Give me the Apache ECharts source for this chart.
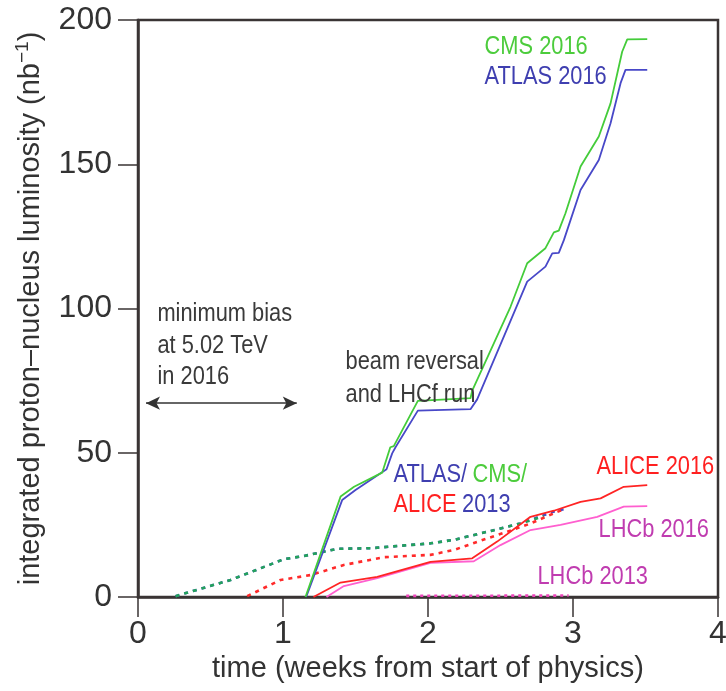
<!DOCTYPE html>
<html><head><meta charset="utf-8">
<script src="https://cdn.jsdelivr.net/npm/echarts@6/dist/echarts.min.js"></script>
<style>html,body{margin:0;padding:0;background:#fff}#c{width:726px;height:691px}</style>
</head><body><div id="c"></div>
<script>
// ---- data (time in weeks, integrated luminosity in nb^-1) ----
const xTickValues = [0, 1, 2, 3, 4];
const yTickValues = [0, 50, 100, 150, 200];

const cms2016 = [[1.155,0],[1.397,34.8],[1.49,38.2],[1.684,43.1],[1.74,51.9],[1.764,52.3],[1.93,68.0],[2.293,68.9],[2.305,71.5],[2.569,100.6],[2.684,115.7],[2.81,120.9],[2.868,126.4],[2.902,127.0],[2.948,133.0],[3.052,149.2],[3.178,159.6],[3.259,171.1],[3.339,189.0],[3.374,193.3],[3.512,193.4]];
const atlas2016 = [[1.16,0],[1.408,33.6],[1.5,37.1],[1.714,44.3],[1.753,49.8],[1.776,51.9],[1.93,64.6],[2.293,65.1],[2.339,68.5],[2.684,109.3],[2.81,114.5],[2.857,119.1],[2.902,119.3],[2.937,123.7],[3.052,141.1],[3.178,151.5],[3.259,164.2],[3.328,178.1],[3.362,182.7],[3.512,182.7]];
const alice2016 = [[1.21,0],[1.397,5.0],[1.65,7.0],[2.017,12.2],[2.305,13.4],[2.477,19.2],[2.707,27.8],[2.868,29.9],[3.052,33.0],[3.19,34.2],[3.35,38.2],[3.512,38.8]];
const lhcb2016 = [[1.30,0],[1.42,3.8],[1.65,6.5],[2.017,11.8],[2.316,12.4],[2.5,18.0],[2.707,23.2],[2.914,25.0],[3.167,27.8],[3.35,31.3],[3.512,31.5]];
const atlas2013 = [[0.259,0.3],[0.638,5.9],[1.006,13.1],[1.143,14.2],[1.374,16.7],[1.603,16.9],[2.017,18.6],[2.178,19.8],[2.408,22.6],[2.638,25.5],[2.868,29.6],[2.96,30.7]];
const cms2013 = [[0.259,0.3],[0.638,5.9],[1.006,13.1],[1.143,14.2],[1.374,16.7],[1.603,16.9],[2.017,18.6],[2.178,19.8],[2.408,22.6],[2.638,25.5],[2.8,28.0]];
const alice2013 = [[0.753,0.3],[0.983,5.9],[1.19,7.6],[1.419,11.1],[1.695,13.8],[2.017,14.6],[2.178,16.3],[2.408,20.3],[2.546,22.6],[2.707,25.5],[2.868,29.0],[2.94,30.5]];
const lhcb2013 = [[1.85,0.4],[2.97,0.5]];
const arrowSpan = [[0.055,67.2],[1.095,67.2]];

// annotations: [text, t, L, color]
const annotations = [
  ['CMS 2016', 2.39, 190.6, '#4ccc3c'],
  ['ATLAS 2016', 2.39, 180.2, '#3f3fb0'],
  ['minimum bias', 0.134, 98.1, '#3a3a3a'],
  ['at 5.02 TeV', 0.134, 87.0, '#3a3a3a'],
  ['in 2016', 0.134, 76.3, '#3a3a3a'],
  ['beam reversal', 1.431, 81.5, '#3a3a3a'],
  ['and LHCf run', 1.431, 70.0, '#3a3a3a'],
  ['ATLAS/', 1.762, 42.3, '#3f3fb0'],
  ['CMS/', 2.307, 42.3, '#4ccc3c'],
  ['ALICE', 1.762, 31.9, '#ff2020'],
  ['2013', 2.235, 31.9, '#3f3fb0'],
  ['ALICE 2016', 3.162, 45.1, '#ff2020'],
  ['LHCb 2016', 3.176, 23.2, '#c03cb0'],
  ['LHCb 2013', 2.755, 6.9, '#c03cb0']
];

const FF = '"Liberation Sans", Arial, sans-serif';
const AX = '#3a3434';

const chart = echarts.init(document.getElementById('c'), null, {renderer: 'canvas'});

function solid(name, data, color, w) {
  return {name, type: 'line', data, symbol: 'none', smooth: false,
    lineStyle: {color, width: w || 1.8}, animation: false, z: 3};
}
function dashed(name, data, color, dash) {
  return {name, type: 'line', data, symbol: 'none',
    lineStyle: {color, width: 2.6, type: dash || [4, 5], cap: 'butt'}, animation: false, z: 2};
}

chart.setOption({
  animation: false,
  grid: {left: 138, right: 8, top: 20, bottom: 94, show: true, borderColor: AX, borderWidth: 2.5,
    backgroundColor: 'transparent', containLabel: false, outerBoundsMode: 'none'},
  xAxis: {
    type: 'value', min: 0, max: 4, interval: 1,
    name: 'time (weeks from start of physics)', nameLocation: 'middle', nameGap: 51,
    nameTextStyle: {fontFamily: FF, fontSize: 29, color: '#333'},
    axisLine: {show: true, lineStyle: {color: AX, width: 2.5}},
    axisTick: {show: true, inside: false, length: 20, lineStyle: {color: AX, width: 1.5}},
    axisLabel: {fontFamily: FF, fontSize: 32, color: '#333', margin: 21,
      formatter: v => xTickValues.includes(v) ? String(v) : ''},
    splitLine: {show: false}
  },
  yAxis: {
    type: 'value', min: 0, max: 200, interval: 50,
    name: 'integrated proton\u2013nucleus luminosity (nb{sup|\u22121})', nameLocation: 'middle', nameGap: 80,
    nameRotate: 90,
    nameTextStyle: {fontFamily: FF, fontSize: 29, color: '#333', lineHeight: 34,
      rich: {sup: {fontFamily: FF, fontSize: 19, color: '#333', verticalAlign: 'top', lineHeight: 34}}},
    axisLine: {show: true, lineStyle: {color: AX, width: 2.5}},
    axisTick: {show: true, inside: false, length: 20, lineStyle: {color: AX, width: 1.5}},
    axisLabel: {fontFamily: FF, fontSize: 32, color: '#333', margin: 26,
      formatter: v => yTickValues.includes(v) ? String(v) : ''},
    splitLine: {show: false}
  },
  series: [
    dashed('LHCb 2013', lhcb2013, '#ee44bb', [3, 4]),
    dashed('ATLAS 2013', atlas2013, '#4a4ac8'),
    dashed('CMS 2013', cms2013, '#22a35a'),
    dashed('ALICE 2013', alice2013, '#ff2a2a'),
    solid('LHCb 2016', lhcb2016, '#ff5fcf'),
    solid('ALICE 2016', alice2016, '#ff2424'),
    solid('ATLAS 2016', atlas2016, '#4848c8'),
    solid('CMS 2016', cms2016, '#44cc3a'),
    {name: 'arrow', type: 'line', data: [], symbol: 'none', animation: false,
      markLine: {silent: true, animation: false, symbol: ['arrow', 'arrow'], symbolSize: [10, 14],
        label: {show: false},
        lineStyle: {color: '#333', width: 1.5, type: 'solid'},
        data: [[{coord: arrowSpan[0]}, {coord: arrowSpan[1]}]]}}
  ]
});

const graphics = annotations.map(([text, t, L, color]) => {
  const p = chart.convertToPixel({gridIndex: 0}, [t, L]);
  return {type: 'text', x: p[0], y: p[1], scaleX: 0.84, silent: true, z: 10,
    style: {text, fill: color, font: '26px ' + FF, verticalAlign: 'middle', align: 'left'}};
});
chart.setOption({graphic: graphics});
</script>
</body></html>
